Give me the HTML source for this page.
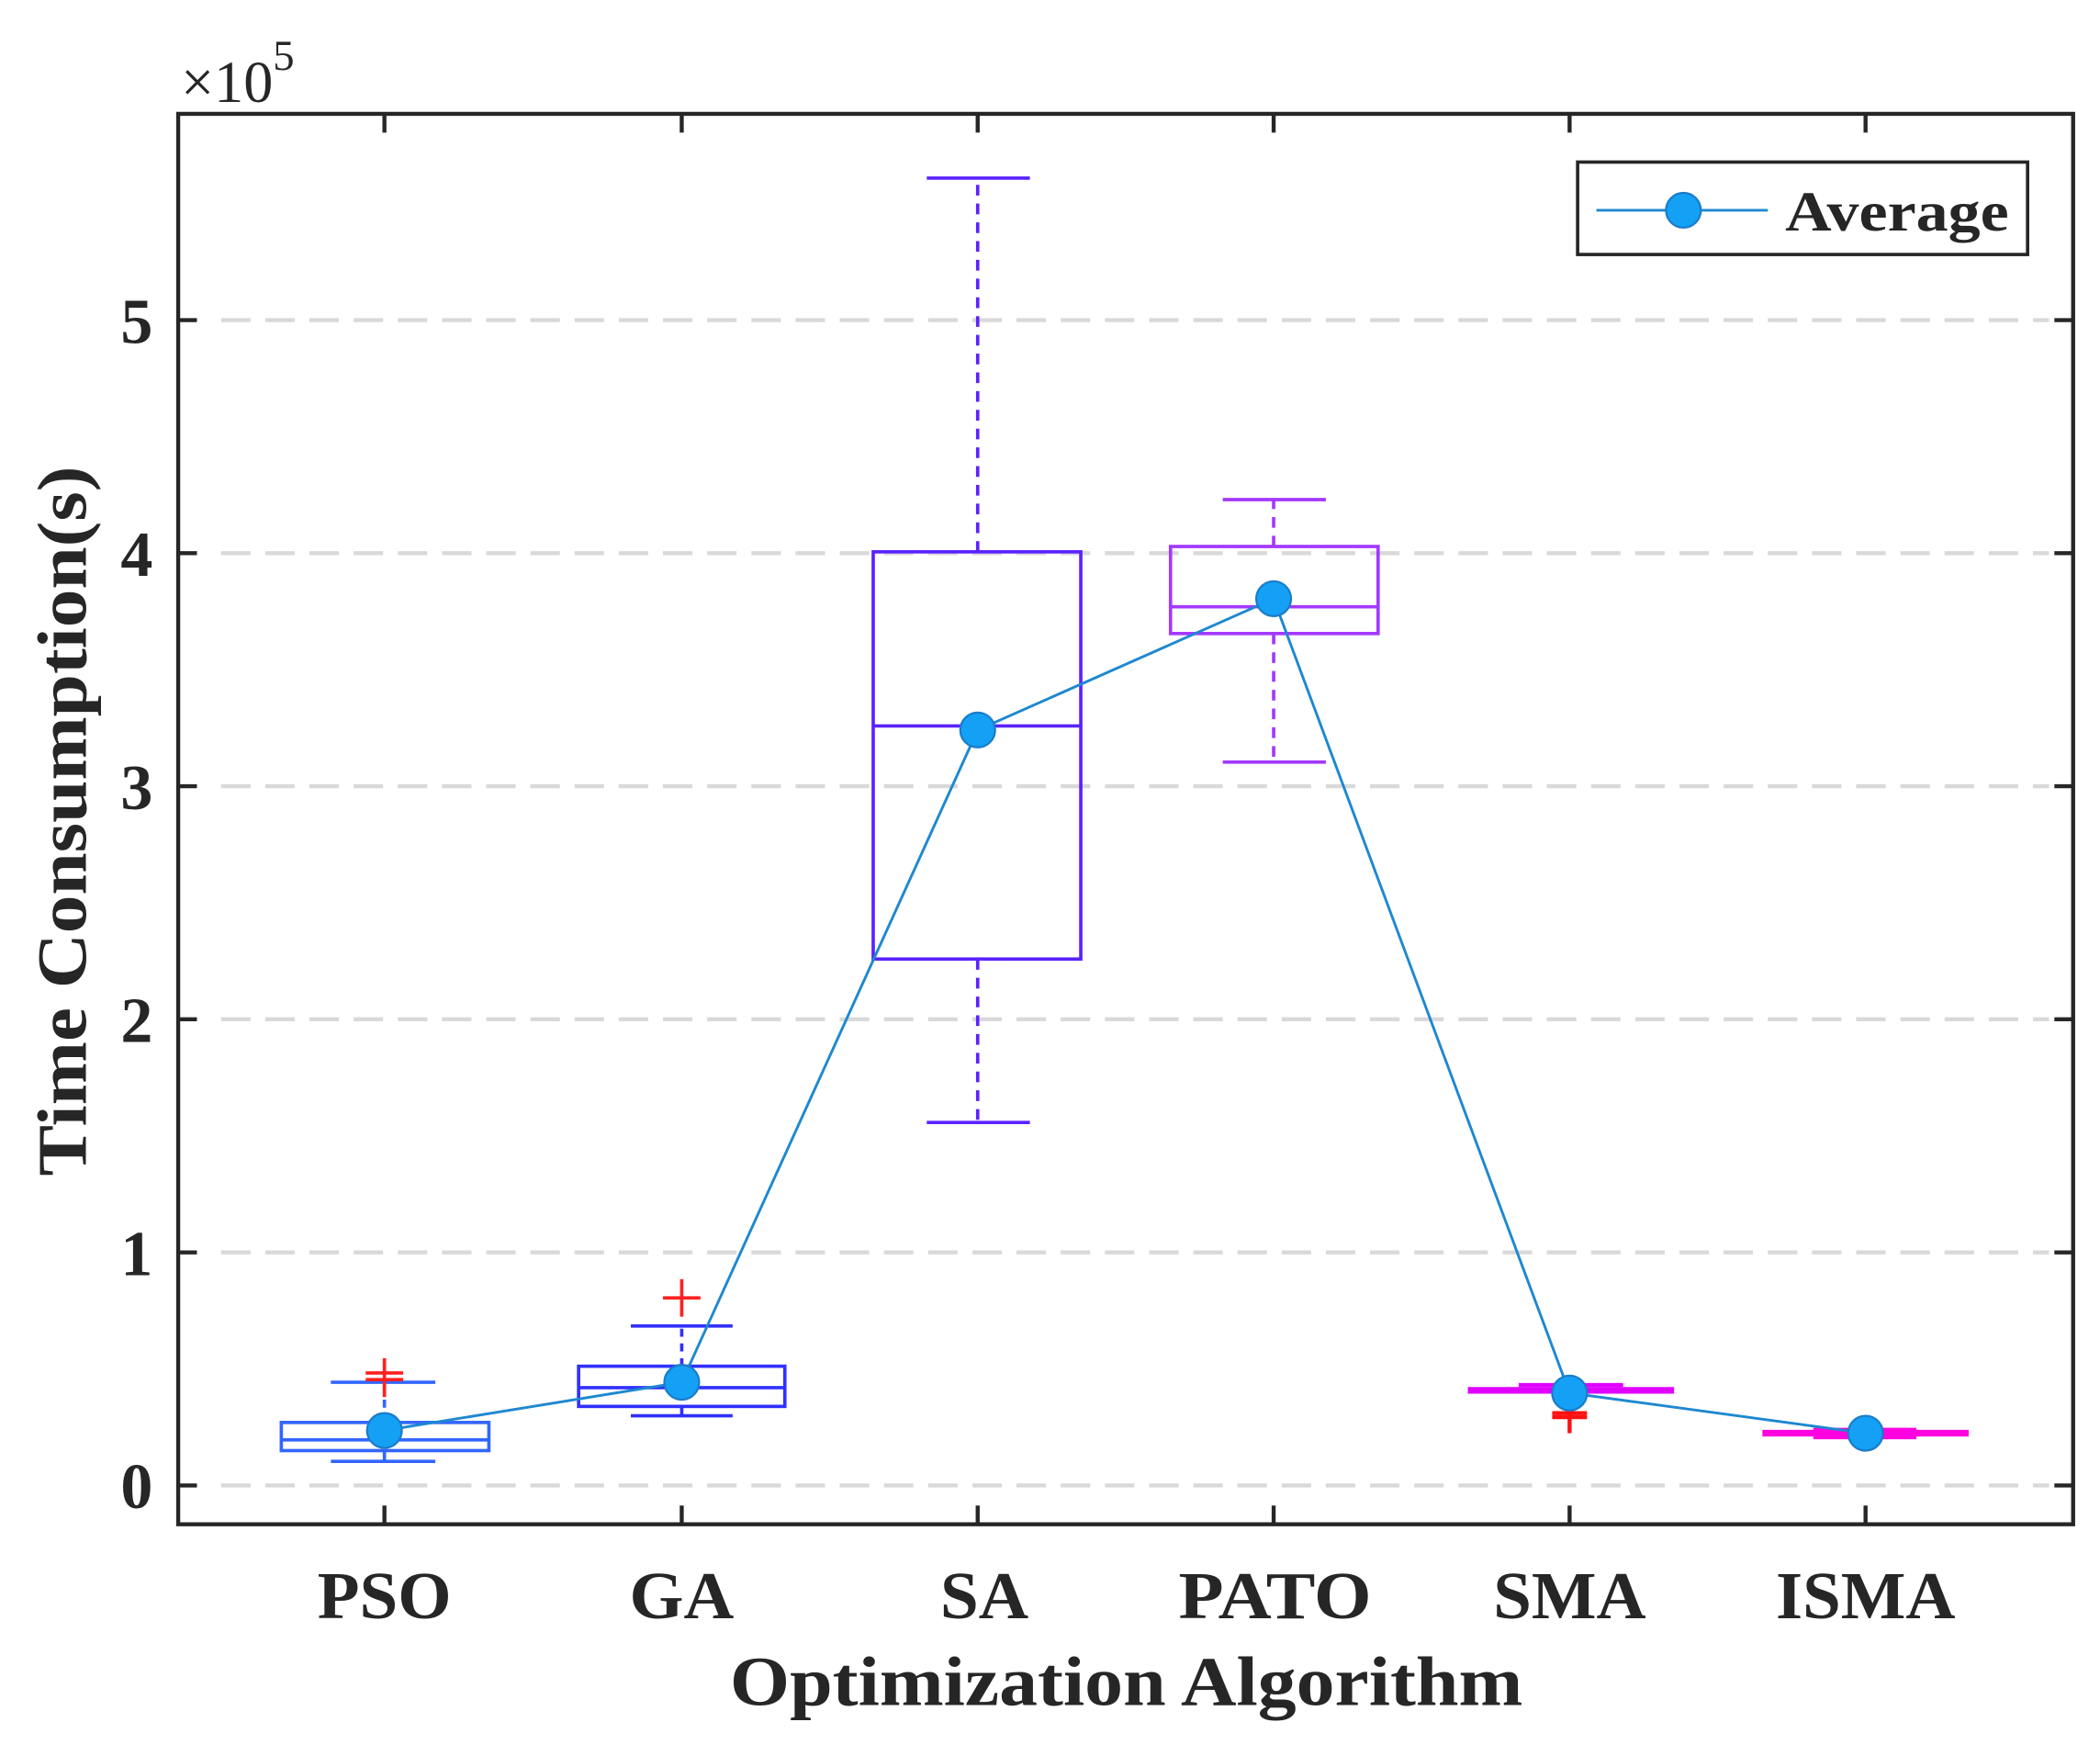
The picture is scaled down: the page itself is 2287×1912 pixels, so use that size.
<!DOCTYPE html>
<html><head><meta charset="utf-8"><style>html,body{margin:0;padding:0;background:#fff}svg{display:block}</style></head>
<body>
<svg width="2287" height="1912" viewBox="0 0 1568 1311" xmlns="http://www.w3.org/2000/svg" font-family="'Liberation Serif', serif" font-weight="bold">
<rect width="1568" height="1311" fill="#fff"/>
<g stroke="#d9d9d9" stroke-width="3" stroke-dasharray="22,11">
<line x1="165" y1="1109" x2="1530" y2="1109"/>
<line x1="165" y1="935" x2="1530" y2="935"/>
<line x1="165" y1="761" x2="1530" y2="761"/>
<line x1="165" y1="587" x2="1530" y2="587"/>
<line x1="165" y1="413" x2="1530" y2="413"/>
<line x1="165" y1="239" x2="1530" y2="239"/>
</g>
<g stroke="#3366ff" stroke-width="2.5" fill="none">
<rect x="210" y="1062" width="155" height="21"/><line x1="210" y1="1075" x2="365" y2="1075"/>
<line x1="287" y1="1083" x2="287" y2="1091"/><line x1="247" y1="1091" x2="325" y2="1091"/>
<line x1="287" y1="1062" x2="287" y2="1032" stroke-dasharray="6,5"/><line x1="247" y1="1032" x2="325" y2="1032"/>
</g>
<g stroke="#ff2020" stroke-width="2.5"><line x1="287" y1="1014" x2="287" y2="1043"/><line x1="273" y1="1025" x2="301" y2="1025"/><line x1="273" y1="1030" x2="301" y2="1030"/></g>
<g stroke="#3030ff" stroke-width="2.5" fill="none">
<rect x="432" y="1020" width="154" height="30"/><line x1="432" y1="1036" x2="586" y2="1036"/>
<line x1="509" y1="1050" x2="509" y2="1057"/><line x1="471" y1="1057" x2="547" y2="1057"/>
<line x1="509" y1="1020" x2="509" y2="990" stroke-dasharray="6,5"/><line x1="471" y1="990" x2="547" y2="990"/>
</g>
<g stroke="#ff2020" stroke-width="2.5"><line x1="509" y1="955" x2="509" y2="983"/><line x1="495" y1="969" x2="523" y2="969"/></g>
<g stroke="#5b22ff" stroke-width="2.5" fill="none">
<rect x="652" y="412" width="155" height="304"/><line x1="652" y1="542" x2="807" y2="542"/>
<line x1="730" y1="716" x2="730" y2="838" stroke-dasharray="8,6"/><line x1="692" y1="838" x2="769" y2="838"/>
<line x1="730" y1="412" x2="730" y2="133" stroke-dasharray="8,6"/><line x1="692" y1="133" x2="769" y2="133"/>
</g>
<g stroke="#a338ff" stroke-width="2.5" fill="none">
<rect x="874" y="408" width="155" height="65"/><line x1="874" y1="453" x2="1029" y2="453"/>
<line x1="951" y1="473" x2="951" y2="569" stroke-dasharray="8,6"/><line x1="913" y1="569" x2="990" y2="569"/>
<line x1="951" y1="408" x2="951" y2="373" stroke-dasharray="8,6"/><line x1="913" y1="373" x2="990" y2="373"/>
</g>
<g stroke="#e000ff" fill="none">
<line x1="1096" y1="1038" x2="1250" y2="1038" stroke-width="5"/><line x1="1134" y1="1034" x2="1212" y2="1034" stroke-width="3"/>
</g>
<g stroke="#ff1010" stroke-width="3"><line x1="1172" y1="1048" x2="1172" y2="1070"/><line x1="1159" y1="1055" x2="1185" y2="1055"/><line x1="1159" y1="1058" x2="1185" y2="1058"/></g>
<g stroke="#ff00e0" fill="none">
<line x1="1316" y1="1070" x2="1470" y2="1070" stroke-width="5"/><line x1="1354" y1="1068" x2="1431" y2="1068" stroke-width="4"/><line x1="1354" y1="1073" x2="1431" y2="1073" stroke-width="3"/>
</g>
<polyline points="287,1068 509,1032 730,545 951,447 1172,1040 1393,1070" fill="none" stroke="#1e88d0" stroke-width="2"/>
<g fill="#14a0f5" stroke="#1a7cc8" stroke-width="1.5">
<circle cx="287" cy="1068" r="13"/><circle cx="509" cy="1032" r="13"/><circle cx="730" cy="545" r="13"/><circle cx="951" cy="447" r="13"/><circle cx="1172" cy="1040" r="13"/><circle cx="1393" cy="1070" r="13"/>
</g>
<rect x="133" y="85" width="1415" height="1053" fill="none" stroke="#262626" stroke-width="3"/>
<g stroke="#262626" stroke-width="3">
<line x1="133" y1="1109" x2="147" y2="1109"/><line x1="133" y1="935" x2="147" y2="935"/><line x1="133" y1="761" x2="147" y2="761"/><line x1="133" y1="587" x2="147" y2="587"/><line x1="133" y1="413" x2="147" y2="413"/><line x1="133" y1="239" x2="147" y2="239"/>
<line x1="1548" y1="1109" x2="1534" y2="1109"/><line x1="1548" y1="935" x2="1534" y2="935"/><line x1="1548" y1="761" x2="1534" y2="761"/><line x1="1548" y1="587" x2="1534" y2="587"/><line x1="1548" y1="413" x2="1534" y2="413"/><line x1="1548" y1="239" x2="1534" y2="239"/>
<line x1="287" y1="1138" x2="287" y2="1124"/><line x1="509" y1="1138" x2="509" y2="1124"/><line x1="730" y1="1138" x2="730" y2="1124"/><line x1="951" y1="1138" x2="951" y2="1124"/><line x1="1172" y1="1138" x2="1172" y2="1124"/><line x1="1393" y1="1138" x2="1393" y2="1124"/>
<line x1="287" y1="85" x2="287" y2="99"/><line x1="509" y1="85" x2="509" y2="99"/><line x1="730" y1="85" x2="730" y2="99"/><line x1="951" y1="85" x2="951" y2="99"/><line x1="1172" y1="85" x2="1172" y2="99"/><line x1="1393" y1="85" x2="1393" y2="99"/>
</g>
<g fill="#262626" font-size="48" text-anchor="end">
<text x="114" y="1126">0</text><text x="114" y="952">1</text><text x="114" y="778">2</text><text x="114" y="604">3</text><text x="114" y="430">4</text><text x="114" y="256">5</text>
</g>
<g fill="#262626" font-size="50" text-anchor="middle" lengthAdjust="spacingAndGlyphs">
<text x="287" y="1208" textLength="100" lengthAdjust="spacingAndGlyphs">PSO</text>
<text x="509" y="1208" textLength="78" lengthAdjust="spacingAndGlyphs">GA</text>
<text x="735" y="1208" textLength="66" lengthAdjust="spacingAndGlyphs">SA</text>
<text x="952" y="1208" textLength="144" lengthAdjust="spacingAndGlyphs">PATO</text>
<text x="1172" y="1208" textLength="114" lengthAdjust="spacingAndGlyphs">SMA</text>
<text x="1393" y="1208" textLength="134" lengthAdjust="spacingAndGlyphs">ISMA</text>
</g>
<text x="841" y="1273" font-size="52" text-anchor="middle" fill="#262626" textLength="592" lengthAdjust="spacingAndGlyphs">Optimization Algorithm</text>
<text transform="translate(64,613) rotate(-90)" font-size="52" text-anchor="middle" fill="#262626" textLength="530" lengthAdjust="spacingAndGlyphs">Time Consumption(s)</text>
<text x="135" y="76" font-size="44" font-weight="normal" fill="#262626">×10<tspan dy="-24" font-size="32">5</tspan></text>
<rect x="1178" y="121" width="336" height="69" fill="#fff" stroke="#262626" stroke-width="2.5"/>
<line x1="1192" y1="157" x2="1320" y2="157" stroke="#1e88d0" stroke-width="2"/>
<circle cx="1257" cy="157" r="13" fill="#14a0f5" stroke="#1a7cc8" stroke-width="1.5"/>
<text x="1333" y="172" font-size="42" fill="#262626" textLength="167" lengthAdjust="spacingAndGlyphs">Average</text>
</svg>
</body></html>
